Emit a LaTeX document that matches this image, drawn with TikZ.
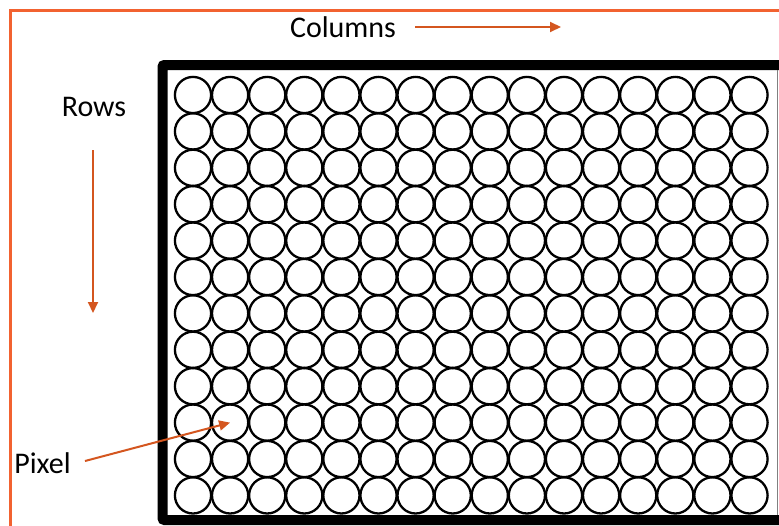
\documentclass[tikz,border=0pt]{standalone}
\usepackage{fontspec}
\setmainfont{Carlito}
\usetikzlibrary{arrows.meta}
\definecolor{frameorange}{HTML}{F26230}
\definecolor{arroworange}{HTML}{D4561F}

\begin{document}
\begin{tikzpicture}[
			x=1pt, y=-1pt,
			font=\fontsize{30}{36}\selectfont,
			pix/.style={draw, circle, line width=2.3pt, minimum size=36.2pt, inner sep=0pt},
			arr/.style={-{Triangle[length=11pt, width=10pt]}, line width=2pt, arroworange}
			]
			\useasboundingbox (0,0) rectangle (779,525);
			\clip (0,0) rectangle (779,525);

			% outer frame and panel
			\draw[frameorange, line width=2.4pt] (10.5,540) |- (800,10.5);
			\draw[line width=10pt, rounded corners=2pt] (162.5,65) rectangle (820,520);
			\draw[gray, line width=0.8pt] (777.5,70) -- (777.5,515);

			% pixel grid
			\foreach \r in {1,...,12} {
				\foreach \c in {1,...,16} {
					\node[pix] (p-\r-\c) at ({193+37.1*(\c-1)}, {95+36.4*(\r-1)}) {};
				}
			}

			\node (cols) at (343,27) {Columns};
			\node (rows) at (94,107) {Rows};
			\node (pixel) at (42.5,463) {Pixel};

			\coordinate (colstart) at (415,27);
			\coordinate (colend) at (561,27);
			\coordinate (rowstart) at (93,150);
			\coordinate (rowend) at (93,313);
			\coordinate (pixstart) at (85,461);

			\draw[arr] (colstart) -- (colend);
			\draw[arr] (rowstart) -- (rowend);
			\draw[arr] (pixstart) -- (p-10-2.center);

		\end{tikzpicture}
\end{document}
